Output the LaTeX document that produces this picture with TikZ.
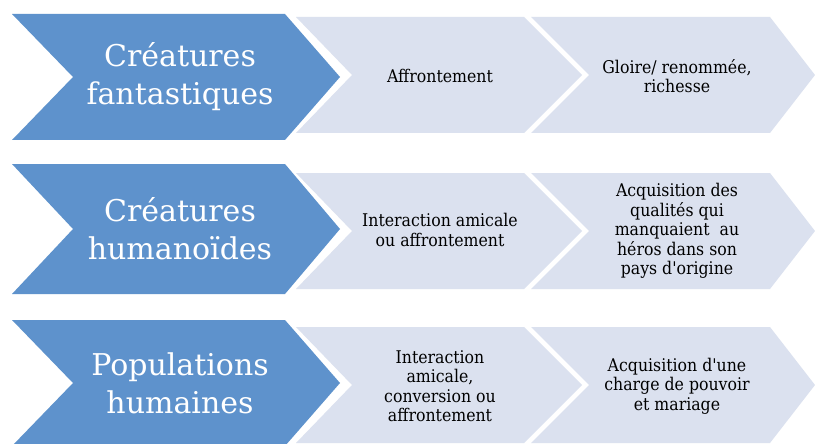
\documentclass[tikz,border=0pt]{standalone}
\usepackage{fontspec}
\newfontfamily\cam{DejaVu Serif}
\newfontfamily\camc{DejaVu Serif Condensed}
\definecolor{chevblue}{RGB}{94,146,204}
\definecolor{chevlight}{RGB}{219,225,239}
\newcommand\chevshape[8]{%
  \fill[#1] (#2,#6) -- (#4,#6) -- (#5,#7) -- (#4,#8) -- (#2,#8) -- (#3,#7) -- cycle;}
\begin{document}
\begin{tikzpicture}[x=1pt,y=-1pt,
  bigtxt/.style={text=white,font=\cam\fontsize{30}{38}\selectfont,align=center,inner sep=0pt},
  smalltxt/.style={text=black,font=\camc\fontsize{17.5}{19.5}\selectfont,align=center,inner sep=0pt}]
\useasboundingbox (0,0) rectangle (815,444);
\clip (0,0) rectangle (815,444);
\fill[white] (0,0) rectangle (815,444);
% row 1
\chevshape{chevlight}{296}{352}{524}{582}{17}{75}{133}
\chevshape{chevlight}{531}{589}{770}{815}{17}{75}{133}
\chevshape{chevblue}{12}{73}{285}{340}{14}{77}{140}
% row 2
\chevshape{chevlight}{296}{352}{524}{582}{173}{231}{289}
\chevshape{chevlight}{531}{589}{770}{815}{173}{231}{289}
\chevshape{chevblue}{12}{73}{285}{340}{164}{229}{294}
% row 3
\chevshape{chevlight}{296}{352}{524}{582}{327}{385}{443}
\chevshape{chevlight}{531}{589}{770}{815}{327}{385}{443}
\chevshape{chevblue}{12}{73}{285}{340}{320}{383}{446}
% texts
\node[bigtxt] (b1) at (180,77) {Créatures\\fantastiques};
\node[smalltxt] (a1) at (440,76) {Affrontement};
\node[smalltxt] (c1) at (677,76) {Gloire/ renommée,\\richesse};
\node[bigtxt] (b2) at (180,229) {Créatures\\humanoïdes};
\node[smalltxt] (a2) at (440,230) {Interaction amicale\\ou affrontement};
\node[smalltxt] (c2) at (677,231) {Acquisition des\\qualités qui\\manquaient~ au\\héros dans son\\pays d'origine};
\node[bigtxt] (b3) at (180,383) {Populations\\humaines};
\node[smalltxt] (a3) at (440,386) {Interaction\\amicale,\\conversion ou\\affrontement};
\node[smalltxt] (c3) at (677,386) {Acquisition d'une\\charge de pouvoir\\et mariage};
\end{tikzpicture}
\end{document}
